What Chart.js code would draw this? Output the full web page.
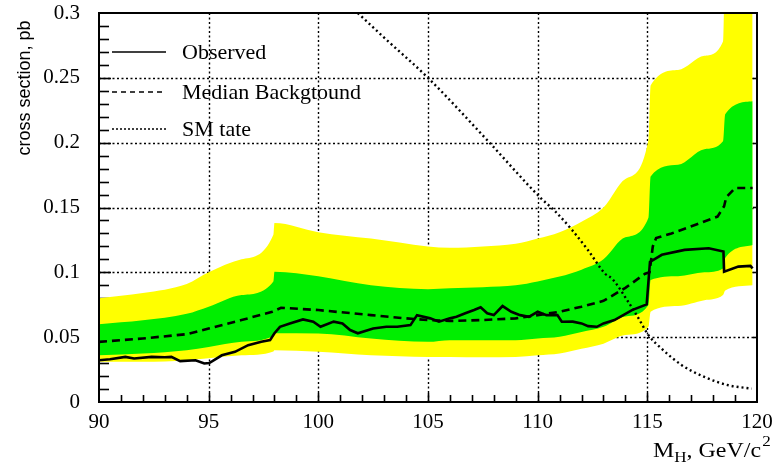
<!DOCTYPE html>
<html><head><meta charset="utf-8">
<script src="https://cdn.jsdelivr.net/npm/chart.js@4/dist/chart.umd.min.js"></script>
<style>html,body{margin:0;padding:0;background:#fff}canvas{display:block}</style>
</head><body>
<canvas id="c" width="775" height="464"></canvas>
<script>
// ---- data ----
const bandX     = [90, 92, 94, 95, 96.5, 97.95, 98, 100, 102.4, 105, 106, 107.5, 109, 110, 111, 112, 113, 114, 115.05, 115.15, 116.4, 117.6, 118.45, 118.55, 119.8];
const yellowHi  = [0.080,0.084,0.091,0.100,0.110,0.129,0.138,0.131,0.126,0.120,0.119,0.120,0.122,0.126,0.131,0.139,0.150,0.172,0.202,0.244,0.256,0.267,0.278,0.340,0.340];
const yellowLo  = [0.031,0.031,0.0322,0.0338,0.036,0.039,0.040,0.0387,0.036,0.0348,0.0348,0.0345,0.0348,0.036,0.0374,0.041,0.045,0.0516,0.058,0.0696,0.074,0.0785,0.0825,0.086,0.090];
const greenHi   = [0.060,0.063,0.068,0.0735,0.0825,0.093,0.1005,0.097,0.090,0.087,0.0877,0.0885,0.090,0.093,0.0967,0.102,0.110,0.127,0.142,0.174,0.183,0.195,0.201,0.222,0.232];
const greenLo   = [0.036,0.0374,0.040,0.0425,0.0464,0.051,0.053,0.0529,0.049,0.0464,0.0477,0.0477,0.0477,0.049,0.0503,0.054,0.058,0.066,0.0748,0.094,0.097,0.100,0.103,0.111,0.121];

const medianX   = [90, 92, 94, 95, 96.5, 97.9, 98.3, 100, 102.4, 104, 105, 106, 107.5, 109, 110, 111, 112, 113, 114, 114.9, 115.1, 115.25, 115.4, 116.1, 117.2, 118.2, 118.5, 118.6, 119, 119.8];
const medianY   = [0.0464,0.049,0.0523,0.0567,0.0632,0.0696,0.0727,0.0709,0.067,0.0645,0.0632,0.0625,0.0632,0.0645,0.067,0.0696,0.0735,0.078,0.088,0.099,0.100,0.120,0.1264,0.130,0.1367,0.143,0.151,0.158,0.165,0.165];

const obsX = [90,90.5,91.2,91.6,92.4,93.0,93.3,93.7,94.4,94.8,95.03,95.6,96.2,96.8,97.4,97.8,98.0,98.25,98.7,99.3,99.77,100.1,100.7,101.1,101.45,101.8,102.5,103.1,103.6,104.2,104.5,105.1,105.5,106,106.3,106.7,107.1,107.4,107.7,108.0,108.4,108.8,109.2,109.6,110.0,110.4,110.9,111.1,111.6,112.0,112.3,112.7,113.0,113.5,114.3,114.97,115.12,115.66,116.7,117.8,118.47,118.5,119.15,119.7,119.8];
const obsY = [0.0322,0.033,0.0348,0.0335,0.0348,0.0345,0.0348,0.0315,0.0322,0.0297,0.030,0.036,0.0387,0.0438,0.0464,0.0477,0.053,0.058,0.0606,0.0637,0.0619,0.058,0.062,0.0606,0.0555,0.053,0.0567,0.058,0.058,0.0593,0.067,0.0645,0.0619,0.0645,0.0657,0.0684,0.0709,0.073,0.0684,0.067,0.074,0.0696,0.067,0.0657,0.0696,0.067,0.067,0.0619,0.062,0.0606,0.0585,0.058,0.0606,0.0632,0.0709,0.0753,0.108,0.1135,0.1173,0.1186,0.116,0.1005,0.1044,0.105,0.103];

const smX = [101.8, 103, 105, 107.75, 110.1, 110.8, 111.55, 112.3, 113.07, 113.4, 114.14, 114.6, 115.05, 115.66, 116.57, 117.6, 118.7, 119.76];
const smY = [0.300, 0.281, 0.250, 0.201, 0.158, 0.147, 0.133, 0.117, 0.099, 0.095, 0.077, 0.0645, 0.0516, 0.041, 0.0284, 0.0193, 0.0129, 0.0103];

const xTicks = [90, 95, 100, 105, 110, 115, 120];
const xTickLabels = ['90','95','100','105','110','115','120'];
const yTicks = [0, 0.05, 0.1, 0.15, 0.2, 0.25, 0.3];
const yTickLabels = ['0','0.05','0.1','0.15','0.2','0.25','0.3'];
const legendLabels = ['Observed', 'Median Backgtound', 'SM tate'];
const yTitle = 'cross section, pb';

// ---- helpers ----
const pts = (xs, ys) => xs.map((x, i) => ({x, y: ys[i]}));
const YELLOW = '#ffff00', GREEN = '#00ee00';
const SERIF = '"Liberation Serif", "DejaVu Serif", serif';

function seg(ctx, x1, y1, x2, y2){ ctx.beginPath(); ctx.moveTo(x1, y1); ctx.lineTo(x2, y2); ctx.stroke(); }

const decor = {
  id: 'decor',
  beforeDatasetsDraw(chart){
    const {ctx, chartArea: a, scales: {x, y}} = chart;
    ctx.save();
    ctx.strokeStyle = '#000';
    ctx.lineWidth = 1.4; ctx.setLineDash([2, 2.5]);
    xTicks.slice(1, -1).forEach(v => { const p = Math.round(x.getPixelForValue(v)) + 0.5; seg(ctx, p, a.top, p, a.bottom); });
    yTicks.slice(1, -1).forEach(v => { const p = Math.round(y.getPixelForValue(v)) + 0.5; seg(ctx, a.left, p, a.right, p); });
    ctx.setLineDash([]);
    ctx.lineWidth = 1.6;
    for (let v = 91; v < 120; v++) {
      const p = Math.round(x.getPixelForValue(v)) + 0.5;
      seg(ctx, p, a.bottom, p, a.bottom - (v % 5 === 0 ? 9 : 7));
    }
    for (let k = 1; k < 30; k++) {
      const p = Math.round(y.getPixelForValue(k / 100)) + 0.5;
      seg(ctx, a.left, p, a.left + (k % 5 === 0 ? 12 : 10), p);
    }
    for (let k = 1; k < 6; k++) {
      const p = Math.round(y.getPixelForValue(k * 0.05)) + 0.5;
      seg(ctx, a.right, p, a.right - 4, p);
    }
    ctx.restore();
  },
  afterDatasetsDraw(chart){
    const {ctx, chartArea: a} = chart;
    ctx.save();
    ctx.strokeStyle = '#000'; ctx.lineWidth = 2;
    ctx.strokeRect(a.left, a.top, a.right - a.left, a.bottom - a.top);
    // legend
    const rows = [52, 92, 129];
    const dashes = [[], [5, 4], [2, 2]];
    ctx.fillStyle = '#000';
    ctx.font = '22px ' + SERIF;
    ctx.textBaseline = 'middle';
    legendLabels.forEach((t, i) => {
      ctx.lineWidth = 1.6; ctx.setLineDash(dashes[i]);
      seg(ctx, 112, rows[i], 166, rows[i]);
      ctx.setLineDash([]);
      ctx.fillText(t, 182, rows[i] + 1);
    });
    // y title
    ctx.save();
    ctx.translate(25, 88); ctx.rotate(-Math.PI / 2);
    ctx.font = '18px "Liberation Sans", Arial, sans-serif';
    ctx.textAlign = 'center'; ctx.textBaseline = 'middle';
    ctx.fillText(yTitle, 0, 0);
    ctx.restore();
    // x title: M_H, GeV/c^2 (stretched slightly to the reference width)
    const big = '21px ' + SERIF, small = '15px ' + SERIF;
    ctx.textBaseline = 'alphabetic'; ctx.textAlign = 'left';
    ctx.font = big; const wM = ctx.measureText('M').width, wR = ctx.measureText(', GeV/c').width;
    ctx.font = small; const wH = ctx.measureText('H').width;
    const natural = wM + wH + wR;
    const sx = (761 - 653) / natural;
    ctx.save();
    ctx.translate(653, 457); ctx.scale(sx, 1);
    let xx = 0;
    ctx.font = big; ctx.fillText('M', xx, 0); xx += wM;
    ctx.font = small; ctx.fillText('H', xx, 5); xx += wH;
    ctx.font = big; ctx.fillText(', GeV/c', xx, 0); xx += wR + 1;
    ctx.font = small; ctx.fillText('2', xx, -11);
    ctx.restore();
    ctx.restore();
  }
};

new Chart(document.getElementById('c'), {
  type: 'line',
  data: {
    datasets: [
      {data: pts(bandX, yellowHi), fill: '+1', backgroundColor: YELLOW, borderWidth: 0, pointRadius: 0, order: 5, cubicInterpolationMode: 'monotone'},
      {data: pts(bandX, yellowLo), fill: false, borderWidth: 0, pointRadius: 0, order: 5, cubicInterpolationMode: 'monotone'},
      {data: pts(bandX, greenHi), fill: '+1', backgroundColor: GREEN, borderWidth: 0, pointRadius: 0, order: 4, cubicInterpolationMode: 'monotone'},
      {data: pts(bandX, greenLo), fill: false, borderWidth: 0, pointRadius: 0, order: 4, cubicInterpolationMode: 'monotone'},
      {data: pts(smX, smY), borderColor: '#000', borderWidth: 2.4, borderDash: [2, 3], pointRadius: 0, fill: false, order: 2, cubicInterpolationMode: 'monotone'},
      {data: pts(medianX, medianY), borderColor: '#000', borderWidth: 2.6, borderDash: [8, 5], pointRadius: 0, fill: false, order: 1},
      {data: pts(obsX, obsY), borderColor: '#000', borderWidth: 2.6, pointRadius: 0, fill: false, order: 0}
    ]
  },
  options: {
    responsive: false, animation: false, devicePixelRatio: 1,
    layout: {padding: {top: 13, right: 18, left: 0, bottom: 0}},
    plugins: {legend: {display: false}, tooltip: {enabled: false}, filler: {propagate: false}},
    elements: {line: {tension: 0}},
    scales: {
      x: {
        type: 'linear', min: 90, max: 120,
        afterBuildTicks: s => { s.ticks = xTicks.map(v => ({value: v})); },
        afterFit: s => { s.height = 62; s.paddingLeft = 0; s.paddingRight = 0; },
        grid: {display: false, drawTicks: false}, border: {display: false},
        ticks: {color: '#000', font: {family: SERIF, size: 21}, padding: 8, maxRotation: 0,
          callback: v => xTickLabels[xTicks.indexOf(v)]}
      },
      y: {
        type: 'linear', min: 0, max: 0.3,
        afterBuildTicks: s => { s.ticks = yTicks.map(v => ({value: v})); },
        afterFit: s => { s.width = 99; s.paddingTop = 0; s.paddingBottom = 0; },
        grid: {display: false, drawTicks: false}, border: {display: false},
        ticks: {color: '#000', font: {family: SERIF, size: 21}, padding: 19,
          callback: v => yTickLabels[yTicks.findIndex(t => Math.abs(t - v) < 1e-9)]}
      }
    }
  },
  plugins: [decor]
});
</script>
</body></html>
